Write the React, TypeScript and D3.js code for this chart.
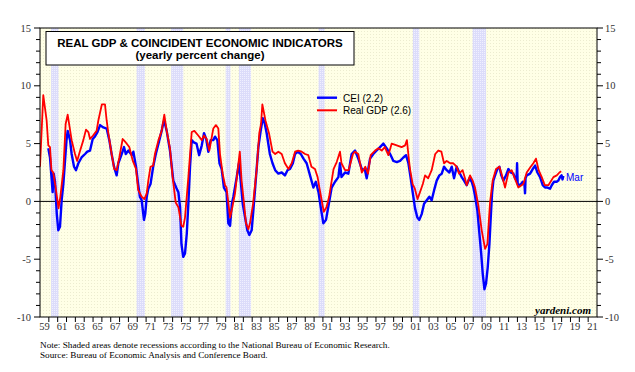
import React from "react";
import * as d3 from "d3";

const gdpYears = [
  1959.0, 1959.37, 1959.75, 1959.94, 1960.13, 1960.3, 1960.5, 1960.75, 1961.1, 1961.3, 1961.64, 1961.9, 1962.13,
  1962.58, 1962.96, 1963.2, 1963.5, 1963.9, 1964.2, 1964.47, 1964.66, 1965.0, 1965.4, 1965.6, 1966.0, 1966.35,
  1966.54, 1966.73, 1967.1, 1967.4, 1967.67, 1967.97, 1968.35, 1968.7, 1969.1, 1969.5, 1969.86, 1970.1, 1970.5,
  1970.8, 1971.07, 1971.25, 1971.5, 1971.8, 1972.0, 1972.4, 1972.76, 1972.95, 1973.06, 1973.33, 1973.7, 1974.0,
  1974.35, 1974.65, 1975.0, 1975.2, 1975.4, 1975.78, 1976.16, 1976.46, 1976.9, 1977.3, 1977.55, 1977.85, 1978.15,
  1978.6, 1978.9, 1979.17, 1979.36, 1979.66, 1979.93, 1980.1, 1980.5, 1980.76, 1981.06, 1981.4, 1981.6, 1981.8,
  1982.08, 1982.3, 1982.56, 1982.75, 1983.1, 1983.5, 1983.8, 1984.0, 1984.15, 1984.5, 1984.9, 1985.3, 1985.6,
  1985.96, 1986.34, 1986.7, 1987.1, 1987.47, 1987.85, 1988.2, 1988.6, 1988.98, 1989.35, 1989.7, 1990.1, 1990.4,
  1990.6, 1990.86, 1991.1, 1991.4, 1991.7, 1992.2, 1992.56, 1992.93, 1993.1, 1993.5, 1993.9, 1994.4, 1994.63,
  1995.0, 1995.4, 1995.8, 1996.1, 1996.4, 1996.9, 1997.27, 1997.65, 1998.0, 1998.4, 1998.78, 1999.35, 1999.9,
  2000.3, 2000.5, 2000.7, 2000.85, 2001.15, 2001.4, 2001.7, 2001.98, 2002.3, 2002.55, 2002.9, 2003.3, 2003.7,
  2004.05, 2004.4, 2004.7, 2005.0, 2005.4, 2005.75, 2006.13, 2006.4, 2006.8, 2007.07, 2007.26, 2007.64, 2007.94,
  2008.2, 2008.58, 2008.96, 2009.34, 2009.6, 2009.9, 2010.2, 2010.58, 2010.96, 2011.2, 2011.6, 2011.98, 2012.35,
  2012.7, 2013.1, 2013.67, 2014.05, 2014.5, 2014.8, 2015.1, 2015.4, 2015.75, 2016.1, 2016.5, 2017.07, 2017.45,
  2017.75, 2017.95,
];
const gdpValues = [
  3.0, 9.2, 7.0, 4.85, 4.7, 2.7, 2.5, 1.3, -0.6, 0.4, 2.7, 6.7, 7.5,
  5.3, 4.1, 3.5, 4.3, 5.3, 6.2, 6.0, 5.4, 5.7, 6.1, 7.0, 8.4, 8.4,
  7.0, 5.9, 4.1, 2.8, 2.7, 3.8, 5.4, 5.1, 4.7, 3.5, 2.8, 1.0, 0.4,
  0.2, 0.7, 1.8, 3.0, 3.1, 4.1, 5.3, 6.1, 7.0, 7.5, 6.1, 4.6, 2.1,
  -0.1, -0.5, -2.1, -2.2, -1.4, 2.1, 6.0, 6.1, 5.7, 5.3, 5.7, 5.4, 4.4,
  6.3, 6.6, 6.3, 4.1, 2.4, 1.4, 1.2, -1.4, -0.5, 0.7, 3.0, 4.3, 1.8,
  -0.2, -1.9, -2.4, -1.9, -0.2, 2.7, 5.9, 6.7, 8.4, 7.0, 5.9, 4.3, 4.1,
  4.3, 4.1, 3.3, 2.8, 3.3, 4.3, 4.4, 4.3, 4.1, 4.0, 3.0, 2.8, 2.1,
  1.2, 0.1, -0.9, -0.5, 0.4, 2.8, 3.4, 4.3, 3.3, 2.7, 2.7, 4.1, 4.3,
  4.1, 2.5, 3.0, 2.4, 4.0, 4.4, 4.6, 4.4, 4.7, 4.0, 5.0, 4.85, 4.7,
  4.85, 5.3, 3.8, 2.8, 1.5, 1.1, 0.2, 0.8, 1.5, 2.25, 2.0, 2.7, 4.1,
  4.4, 4.3, 3.3, 3.5, 3.3, 3.3, 3.0, 2.4, 2.7, 2.0, 1.4, 2.25, 1.8,
  1.2, -0.35, -2.5, -4.1, -3.7, -0.1, 1.8, 2.8, 3.0, 2.4, 1.2, 2.5, 2.7,
  2.0, 1.2, 1.5, 2.5, 3.0, 3.3, 3.7, 2.7, 2.1, 1.4, 1.4, 2.1, 2.25,
  2.5, 2.6,
];

// Coincident economic indicators, yearly % change
const ceiYears = [
  1959.94, 1960.13, 1960.3, 1960.43, 1960.55, 1960.7, 1960.9, 1961.07, 1961.26, 1961.45, 1961.64, 1961.83, 1962.0,
  1962.13, 1962.4, 1962.58, 1962.85, 1963.07, 1963.34, 1963.7, 1964.1, 1964.35, 1964.66, 1964.96, 1965.2, 1965.5,
  1965.8, 1966.16, 1966.54, 1966.84, 1967.1, 1967.37, 1967.67, 1967.86, 1968.24, 1968.5, 1968.7, 1969.0, 1969.37,
  1969.56, 1969.86, 1970.1, 1970.3, 1970.5, 1970.76, 1970.9, 1971.07, 1971.25, 1971.5, 1971.8, 1972.1, 1972.4,
  1972.76, 1972.95, 1973.05, 1973.33, 1973.7, 1974.08, 1974.4, 1974.65, 1974.84, 1975.0, 1975.2, 1975.4, 1975.6,
  1975.78, 1975.97, 1976.16, 1976.4, 1976.7, 1977.0, 1977.3, 1977.55, 1977.8, 1978.04, 1978.3, 1978.6, 1978.8,
  1979.06, 1979.3, 1979.55, 1979.8, 1980.1, 1980.3, 1980.5, 1980.7, 1980.87, 1981.25, 1981.5, 1981.7, 1981.93,
  1982.2, 1982.45, 1982.68, 1982.94, 1983.13, 1983.43, 1983.7, 1983.96, 1984.2, 1984.4, 1984.64, 1985.0, 1985.3,
  1985.6, 1985.96, 1986.34, 1986.7, 1987.0, 1987.28, 1987.6, 1987.85, 1988.15, 1988.5, 1988.8, 1989.16, 1989.54,
  1989.92, 1990.2, 1990.5, 1990.75, 1991.05, 1991.35, 1991.6, 1991.99, 1992.37, 1992.75, 1992.93, 1993.1, 1993.5,
  1993.88, 1994.25, 1994.63, 1995.0, 1995.4, 1995.76, 1995.95, 1996.33, 1996.7, 1997.08, 1997.46, 1997.84, 1998.2,
  1998.6, 1998.97, 1999.35, 1999.72, 2000.1, 2000.4, 2000.67, 2000.93, 2001.15, 2001.42, 2001.68, 2001.9, 2002.17,
  2002.44, 2002.74, 2003.04, 2003.3, 2003.57, 2003.87, 2004.17, 2004.44, 2004.7, 2005.0, 2005.3, 2005.57, 2005.83,
  2006.13, 2006.43, 2006.7, 2006.96, 2007.26, 2007.57, 2007.83, 2008.02, 2008.2, 2008.47, 2008.7, 2008.9, 2009.08,
  2009.27, 2009.45, 2009.64, 2009.83, 2009.98, 2010.13, 2010.28, 2010.47, 2010.73, 2010.96, 2011.18, 2011.41, 2011.71,
  2011.98, 2012.24, 2012.54, 2012.73, 2012.9, 2012.96, 2013.03, 2013.3, 2013.6, 2013.8, 2013.86, 2013.92, 2014.05,
  2014.43, 2014.73, 2015.0, 2015.26, 2015.56, 2015.86, 2016.12, 2016.39, 2016.69, 2016.88, 2017.14, 2017.44, 2017.63,
  2017.82, 2018.0, 2018.1, 2018.2,
];
const ceiValues = [
  4.6, 3.8, 2.1, 0.8, 2.4, 1.7, -1.1, -2.5, -2.2, 0.1, 1.5, 3.5, 5.3,
  6.1, 5.3, 4.1, 3.0, 2.7, 3.3, 3.8, 4.1, 4.3, 4.4, 5.4, 5.6, 6.0,
  6.6, 6.4, 6.3, 5.3, 4.1, 3.0, 2.25, 3.3, 4.1, 4.7, 4.1, 4.4, 4.0,
  4.3, 3.0, 1.5, 0.4, 0.1, -1.6, -1.1, 0.4, 1.1, 1.5, 3.0, 4.1, 5.0,
  6.1, 6.8, 7.0, 6.1, 4.4, 1.8, 1.2, 0.8, -0.5, -3.7, -4.8, -4.5, -2.8,
  -0.2, 3.0, 5.3, 5.1, 5.0, 4.0, 4.85, 5.9, 5.4, 4.3, 5.3, 5.3, 5.6,
  5.3, 3.3, 2.8, 1.2, 0.8, -1.9, -2.1, -0.2, 0.4, 2.1, 3.3, 1.8, -0.2,
  -1.4, -2.5, -2.9, -2.5, -0.8, 2.1, 4.7, 6.1, 7.2, 6.8, 5.9, 4.1, 3.3,
  2.7, 2.4, 2.5, 2.25, 2.7, 2.8, 3.3, 4.1, 4.3, 4.1, 3.7, 3.3, 2.25,
  1.2, 1.7, 0.8, -0.5, -1.9, -1.6, -0.5, 1.2, 1.7, 2.1, 3.3, 2.1, 2.5,
  2.4, 4.1, 4.4, 3.7, 2.8, 2.7, 2.0, 3.7, 4.1, 4.4, 4.7, 5.0, 4.6,
  4.1, 3.5, 3.4, 3.5, 3.8, 4.0, 3.3, 2.0, 0.8, -0.6, -1.4, -1.6, -1.1,
  -0.2, 0.1, 0.4, 0.1, 0.95, 1.8, 2.25, 2.4, 3.0, 2.7, 2.5, 3.0, 2.0,
  3.0, 2.5, 2.1, 1.8, 1.4, 2.0, 1.7, 1.2, 0.5, -0.8, -2.8, -4.5, -6.3,
  -7.6, -7.1, -5.7, -3.7, -1.4, 0.7, 1.8, 2.25, 2.8, 3.0, 2.25, 1.8, 2.25,
  2.8, 2.5, 2.4, 2.0, 1.8, 3.3, 1.5, 1.4, 1.7, 1.4, 0.7, 2.0, 2.25,
  2.4, 2.8, 3.1, 2.5, 2.1, 1.4, 1.2, 1.2, 1.1, 1.4, 1.7, 1.7, 1.8,
  2.1, 2.25, 1.9, 2.2,
];

// NBER recessions [start, end]
const recessionStart = [1960.25, 1969.92, 1973.83, 1980.0, 1981.5, 1990.5, 2001.17, 2007.92];
const recessionEnd = [1961.1, 1970.87, 1975.2, 1980.55, 1982.87, 1991.2, 2001.9, 2009.45];

const yTicksMajor = [-10, -5, 0, 5, 10, 15];
const xLabelYears = d3.range(1959, 2022, 2);

const W = 635;
const H = 372;
const left = 40;
const right = 597;
const top = 28;
const bottom = 317;

const serif = "'Liberation Serif', 'Times New Roman', serif";
const sans = "'Liberation Sans', Arial, sans-serif";

export default function App() {
  const x = d3.scaleLinear().domain([1959, 2022]).range([left, right]);
  const y = d3.scaleLinear().domain([-10, 15]).range([bottom, top]);

  const ceiPath = d3
    .line<number>()
    .x((d, i) => x(ceiYears[i]))
    .y((d) => y(d))(ceiValues);
  const gdpPath = d3
    .line<number>()
    .x((d, i) => x(gdpYears[i]))
    .y((d) => y(d))(gdpValues);

  const minorTicks = d3.range(-10, 16, 1);
  const yearTicks = d3.range(1960, 2022, 1);

  return (
    <svg
      width={W}
      height={H}
      viewBox={`0 0 ${W} ${H}`}
      style={{ position: "absolute", left: 0, top: 0, background: "#fff" }}
    >
      <defs>
        <pattern id="dots" width="3" height="3" patternUnits="userSpaceOnUse">
          <rect width="3" height="3" fill="#FFFFE6" />
          <rect x="1" y="1" width="1" height="1" fill="#ECECD0" />
        </pattern>
        <pattern id="recDots" width="2" height="2" patternUnits="userSpaceOnUse">
          <rect width="2" height="2" fill="#DCDCFA" />
          <rect width="1" height="1" fill="#F0F0FF" />
        </pattern>
        <clipPath id="plotClip">
          <rect x={left} y={top} width={right - left} height={bottom - top} />
        </clipPath>
      </defs>

      {/* plot background */}
      <rect x={left} y={top} width={right - left} height={bottom - top} fill="url(#dots)" />

      {/* recession bands */}
      {recessionStart.map((s, i) => (
        <rect
          key={i}
          x={x(s)}
          y={top}
          width={x(recessionEnd[i]) - x(s)}
          height={bottom - top}
          fill="url(#recDots)"
        />
      ))}

      {/* zero line */}
      <line x1={left} x2={right} y1={y(0)} y2={y(0)} stroke="#000" strokeWidth={1} />

      {/* series */}
      <g clipPath="url(#plotClip)">
        <path d={ceiPath ?? ""} fill="none" stroke="#0000FF" strokeWidth={2.4} strokeLinejoin="round" />
        <path d={gdpPath ?? ""} fill="none" stroke="#FF0000" strokeWidth={1.8} strokeLinejoin="round" />
      </g>

      {/* frame */}
      <rect x={left} y={top} width={right - left} height={bottom - top} fill="none" stroke="#000" strokeWidth={1} />

      {/* y ticks left & right */}
      {minorTicks.map((t) => {
        const len = t % 5 === 0 ? 6 : 4;
        return (
          <g key={t}>
            <line x1={left - len} x2={left} y1={y(t)} y2={y(t)} stroke="#000" />
            <line x1={right} x2={right + len} y1={y(t)} y2={y(t)} stroke="#000" />
          </g>
        );
      })}
      {yTicksMajor.map((t) => (
        <g key={t} style={{ fontFamily: serif, fontSize: "10.5px", fill: "#333" }}>
          <text x={31} y={y(t) + 3.5} textAnchor="end">
            {t}
          </text>
          <text x={605} y={y(t) + 3.5} textAnchor="start">
            {t}
          </text>
        </g>
      ))}

      {/* x ticks */}
      {yearTicks.map((t) => (
        <line key={t} x1={x(t)} x2={x(t)} y1={bottom} y2={bottom + 5} stroke="#000" />
      ))}
      {xLabelYears.map((t) => (
        <text
          key={t}
          x={x(t + 0.5)}
          y={bottom + 13}
          textAnchor="middle"
          style={{ fontFamily: serif, fontSize: "10.5px", fill: "#333" }}
        >
          {String(t % 100).padStart(2, "0")}
        </text>
      ))}

      {/* title box */}
      <rect x={46} y={31.5} width={308} height={33.5} fill="#fff" stroke="#000" strokeWidth={1} />
      <text
        x={200}
        y={47}
        textAnchor="middle"
        style={{ fontFamily: sans, fontSize: "11.5px", fontWeight: "bold" }}
      >
        REAL GDP &amp; COINCIDENT ECONOMIC INDICATORS
      </text>
      <text
        x={200}
        y={59}
        textAnchor="middle"
        style={{ fontFamily: sans, fontSize: "11.5px", fontWeight: "bold" }}
      >
        (yearly percent change)
      </text>

      {/* legend */}
      <line x1={317} x2={337} y1={97.7} y2={97.7} stroke="#0000FF" strokeWidth={2.4} />
      <line x1={317} x2={337} y1={110.3} y2={110.3} stroke="#FF0000" strokeWidth={2} />
      <text x={343} y={101.5} style={{ fontFamily: sans, fontSize: "10px" }}>
        CEI (2.2)
      </text>
      <text x={343} y={114} style={{ fontFamily: sans, fontSize: "10px" }}>
        Real GDP (2.6)
      </text>

      {/* end label */}
      <text x={566} y={180.5} style={{ fontFamily: sans, fontSize: "10px", fill: "#0000FF" }}>
        Mar
      </text>

      {/* watermark */}
      <text
        x={591}
        y={314}
        textAnchor="end"
        style={{ fontFamily: serif, fontSize: "11px", fontWeight: "bold", fontStyle: "italic" }}
      >
        yardeni.com
      </text>

      {/* notes */}
      <text x={40} y={348} style={{ fontFamily: serif, fontSize: "9.2px" }}>
        Note: Shaded areas denote recessions according to the National Bureau of Economic Research.
      </text>
      <text x={40} y={357.5} style={{ fontFamily: serif, fontSize: "9.2px" }}>
        Source: Bureau of Economic Analysis and Conference Board.
      </text>
    </svg>
  );
}
